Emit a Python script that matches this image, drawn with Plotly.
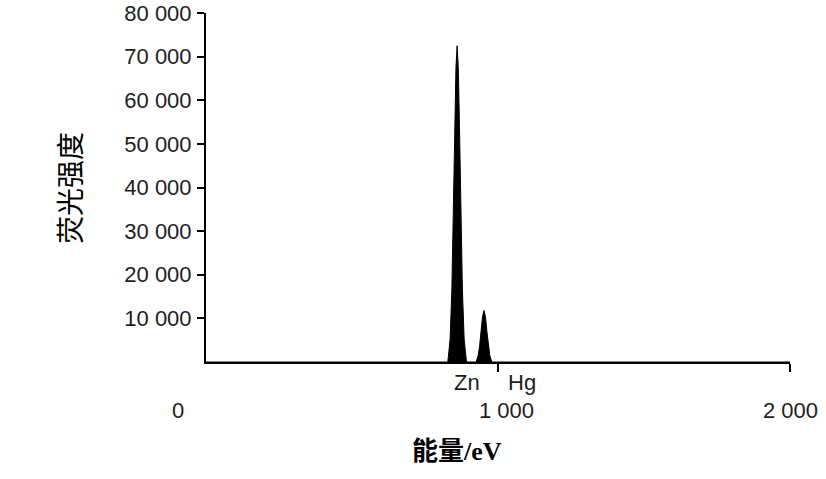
import plotly.graph_objects as go

# Spectrum outline (energy in eV, fluorescence intensity)
energy = [0, 828, 830, 836, 842, 848, 852, 856, 860, 864, 868, 872, 878, 884, 890, 892,
          925, 928, 932, 937, 942, 947, 952, 957, 962, 967, 972, 976, 979, 2000]
intensity = [0, 0, 1200, 5300, 16700, 37700, 54200, 67400, 72500, 67400, 54200, 37700, 16700, 5300, 1200, 0,
             0, 590, 1470, 3650, 7000, 10400, 11800, 10400, 7000, 3650, 1470, 590, 0, 0]

y_tickvals = [10000, 20000, 30000, 40000, 50000, 60000, 70000, 80000]
y_ticktext = ["10 000", "20 000", "30 000", "40 000", "50 000", "60 000", "70 000", "80 000"]
x_tickvals = [1000, 2000]
x_labels = ["0", "1 000", "2 000"]
element_labels = ["Zn", "Hg"]

W, H = 826, 479
ML, MR, MT, MB = 206, 36, 13, 117
PW, PH = W - ML - MR, H - MT - MB


def py(pix):
    return (H - MB - pix) / PH


def px(pix):
    return (pix - ML) / PW


x_label_px = [177.5, 506.5, 790]
element_px = [467, 522]

fig = go.Figure()
fig.add_trace(go.Scatter(x=energy, y=intensity, mode="lines", fill="tozeroy",
                         line=dict(color="black", width=1), fillcolor="black",
                         hoverinfo="skip", showlegend=False))

tick_font = dict(family="Liberation Sans, Arial, sans-serif", size=22, color="#1e1e1e")

fig.update_xaxes(range=[0, 2000], tickvals=x_tickvals, showticklabels=False,
                 ticks="outside", ticklen=8, tickwidth=2, tickcolor="black",
                 showline=True, linewidth=2, linecolor="black",
                 showgrid=False, zeroline=False, automargin=False)
fig.update_yaxes(range=[0, 80000], tickvals=y_tickvals, ticktext=y_ticktext,
                 ticks="outside", ticklen=7, tickwidth=2, tickcolor="black",
                 showline=True, linewidth=2, linecolor="black",
                 showgrid=False, zeroline=False, tickfont=tick_font,
                 ticklabelstandoff=1, automargin=False)

annotations = []
for txt, xp in zip(x_labels, x_label_px):
    annotations.append(dict(x=px(xp), y=py(410), xref="paper", yref="paper", yanchor="middle",
                            text=txt, showarrow=False, font=tick_font, xanchor="center"))
for txt, xp in zip(element_labels, element_px):
    annotations.append(dict(x=px(xp), y=py(382), xref="paper", yref="paper", yanchor="middle",
                            text=txt, showarrow=False, font=tick_font, xanchor="center"))
annotations.append(dict(x=px(69), y=py(188), xref="paper", yref="paper",
                        xanchor="center", yanchor="middle",
                        text="荧光强度", textangle=-90, showarrow=False,
                        font=dict(family="Noto Sans CJK SC", size=28, color="black")))
annotations.append(dict(x=px(457), y=py(451), xref="paper", yref="paper",
                        xanchor="center", yanchor="middle",
                        text="<b>能量/eV</b>", showarrow=False,
                        font=dict(family="Liberation Serif, Noto Sans CJK SC", size=26, color="black")))

fig.update_layout(
    width=W, height=H,
    margin=dict(l=ML, r=MR, t=MT, b=MB, pad=0, autoexpand=False),
    plot_bgcolor="white", paper_bgcolor="white",
    annotations=annotations,
)

fig.write_html("out.html", config={"displayModeBar": False},
               post_script="document.body.style.margin='0';")
